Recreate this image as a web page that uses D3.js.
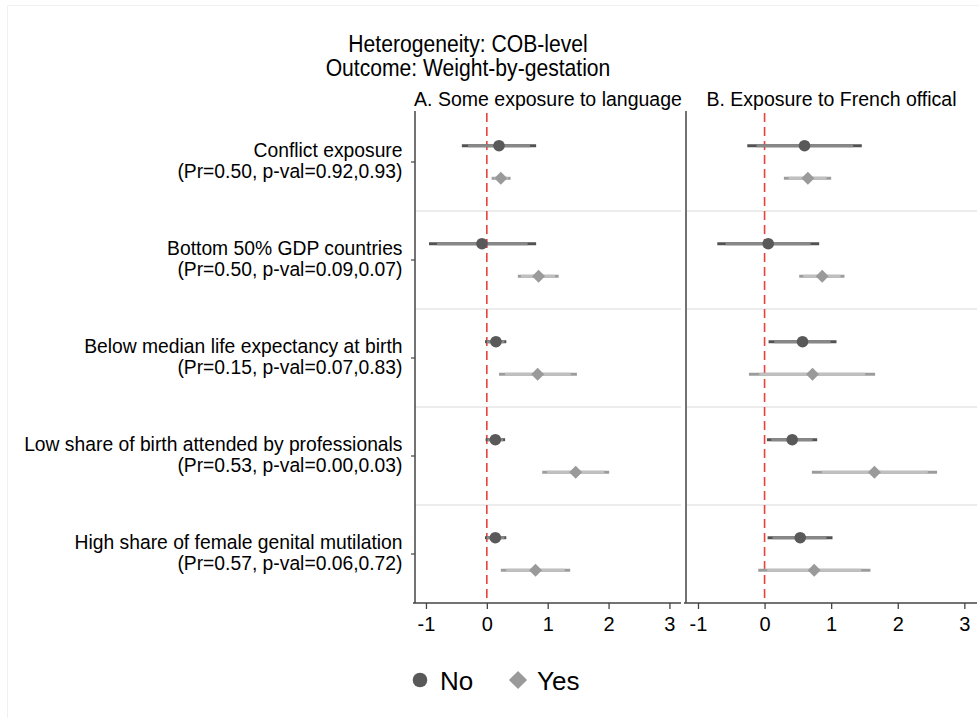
<!DOCTYPE html>
<html>
<head>
<meta charset="utf-8">
<script src="https://cdn.jsdelivr.net/npm/d3@7"></script>
<style>
  html, body { margin: 0; padding: 0; background: #fff; }
  svg text { font-family: "Liberation Sans", Arial, Helvetica, sans-serif; fill: #000; }
</style>
</head>
<body>
<svg id="chart" width="979" height="718"></svg>
<script>
// ---- Data -------------------------------------------------------------
const titleLines = ["Heterogeneity: COB-level", "Outcome: Weight-by-gestation"];
const panelTitles = ["A. Some exposure to language", "B. Exposure to French offical"];
const categories = [
  "Conflict exposure",
  "Bottom 50% GDP countries",
  "Below median life expectancy at birth",
  "Low share of birth attended by professionals",
  "High share of female genital mutilation"
];
const statLabels = [
  "(Pr=0.50, p-val=0.92,0.93)",
  "(Pr=0.50, p-val=0.09,0.07)",
  "(Pr=0.15, p-val=0.07,0.83)",
  "(Pr=0.53, p-val=0.00,0.03)",
  "(Pr=0.57, p-val=0.06,0.72)"
];
const xTicks = [-1, 0, 1, 2, 3];
const groups = ["No", "Yes"];

// Panel A: point estimates with 95% and 90% intervals
const aNoEst  = [0.20, -0.08, 0.15, 0.14, 0.14];
const aNoLo95 = [-0.41, -0.95, -0.03, -0.02, -0.03];
const aNoHi95 = [0.81, 0.81, 0.32, 0.30, 0.32];
const aNoLo90 = [-0.31, -0.82, 0.00, 0.01, 0.00];
const aNoHi90 = [0.71, 0.67, 0.29, 0.27, 0.29];
const aYesEst  = [0.23, 0.85, 0.835, 1.46, 0.80];
const aYesLo95 = [0.08, 0.51, 0.20, 0.91, 0.23];
const aYesHi95 = [0.39, 1.18, 1.48, 2.01, 1.37];
const aYesLo90 = [0.12, 0.56, 0.30, 0.99, 0.32];
const aYesHi90 = [0.35, 1.12, 1.38, 1.93, 1.28];

// Panel B
const bNoEst  = [0.60, 0.055, 0.57, 0.415, 0.535];
const bNoLo95 = [-0.26, -0.71, 0.06, 0.035, 0.045];
const bNoHi95 = [1.46, 0.82, 1.08, 0.79, 1.02];
const bNoLo90 = [-0.12, -0.585, 0.145, 0.10, 0.12];
const bNoHi90 = [1.33, 0.69, 0.99, 0.72, 0.93];
const bYesEst  = [0.65, 0.865, 0.72, 1.65, 0.745];
const bYesLo95 = [0.29, 0.52, -0.235, 0.71, -0.095];
const bYesHi95 = [1.00, 1.20, 1.66, 2.59, 1.59];
const bYesLo90 = [0.36, 0.58, -0.08, 0.86, 0.04];
const bYesHi90 = [0.93, 1.14, 1.51, 2.45, 1.45];

// ---- Build rows -------------------------------------------------------
function rows(est, lo95, hi95, lo90, hi90, group) {
  return categories.map((c, i) => ({
    cat: c, group, est: est[i], lo95: lo95[i], hi95: hi95[i], lo90: lo90[i], hi90: hi90[i]
  }));
}
const panels = [
  { title: panelTitles[0], range: [415, 681], gridEnd: 681,
    data: rows(aNoEst, aNoLo95, aNoHi95, aNoLo90, aNoHi90, "No")
      .concat(rows(aYesEst, aYesLo95, aYesHi95, aYesLo90, aYesHi90, "Yes")) },
  { title: panelTitles[1], range: [686, 977], gridEnd: 977,
    data: rows(bNoEst, bNoLo95, bNoHi95, bNoLo90, bNoHi90, "No")
      .concat(rows(bYesEst, bYesLo95, bYesHi95, bYesLo90, bYesHi90, "Yes")) }
];

// ---- Layout & styles --------------------------------------------------
const plotTop = 113, plotBottom = 603;
const xDomain = [-1.18, 3.19];
const y = d3.scaleBand().domain(categories).range([plotTop, plotBottom]).padding(0);
const groupOffset = d3.scalePoint().domain(groups).range([-16.3, 16.3]);
const style = {
  No:  { point: "#595959", outer: "#525252", inner: "#888888" },
  Yes: { point: "#9a9a9a", outer: "#9c9c9c", inner: "#c0c0c0" }
};
const axisColor = "#444";

const svg = d3.select("#chart");

// faint outer frame of the graph region
svg.append("rect")
  .attr("x", 7.5).attr("y", 5.5).attr("width", 990).attr("height", 730)
  .attr("fill", "none").attr("stroke", "#f1f1f1").attr("stroke-width", 1);

// title (slightly condensed Helvetica look)
const titleG = svg.append("g").attr("transform", "translate(468,0) scale(0.88,1)");
titleLines.forEach((t, i) => {
  titleG.append("text")
    .attr("x", 0).attr("y", 52 + i * 24)
    .attr("text-anchor", "middle").attr("font-size", 24)
    .text(t);
});

panels.forEach((p, pi) => {
  const x = d3.scaleLinear().domain(xDomain).range(p.range);
  const g = svg.append("g");

  // panel title
  g.append("text")
    .attr("x", (p.range[0] + p.range[1]) / 2).attr("y", 106)
    .attr("text-anchor", "middle").attr("font-size", 19.5)
    .text(p.title);

  // horizontal separators between categories
  g.selectAll("line.sep")
    .data(categories.slice(1))
    .join("line")
    .attr("x1", p.range[0]).attr("x2", p.gridEnd)
    .attr("y1", d => y(d)).attr("y2", d => y(d))
    .attr("stroke", "#e6e6e6").attr("stroke-width", 1.5);

  // zero reference line
  g.append("line")
    .attr("x1", x(0)).attr("x2", x(0))
    .attr("y1", plotTop).attr("y2", plotBottom)
    .attr("stroke", "#e8433a").attr("stroke-width", 1.6)
    .attr("stroke-dasharray", "9,5");

  const cy = d => y(d.cat) + y.bandwidth() / 2 + groupOffset(d.group);

  // 95% intervals
  g.selectAll("line.ci95")
    .data(p.data)
    .join("line")
    .attr("x1", d => x(d.lo95)).attr("x2", d => x(d.hi95))
    .attr("y1", cy).attr("y2", cy)
    .attr("stroke", d => style[d.group].outer).attr("stroke-width", 3);

  // 90% intervals
  g.selectAll("line.ci90")
    .data(p.data)
    .join("line")
    .attr("x1", d => x(d.lo90)).attr("x2", d => x(d.hi90))
    .attr("y1", cy).attr("y2", cy)
    .attr("stroke", d => style[d.group].inner).attr("stroke-width", 3);

  // point estimates
  g.selectAll("circle.est")
    .data(p.data.filter(d => d.group === "No"))
    .join("circle")
    .attr("cx", d => x(d.est)).attr("cy", cy).attr("r", 5.8)
    .attr("fill", style.No.point);
  g.selectAll("path.est")
    .data(p.data.filter(d => d.group === "Yes"))
    .join("path")
    .attr("d", d3.symbol().type(d3.symbolSquare).size(84)())
    .attr("transform", d => `translate(${x(d.est)},${cy(d)}) rotate(45)`)
    .attr("fill", style.Yes.point);

  // left axis line
  g.append("line")
    .attr("x1", p.range[0]).attr("x2", p.range[0])
    .attr("y1", plotTop - 2).attr("y2", plotBottom)
    .attr("stroke", axisColor).attr("stroke-width", 1.5);

  // bottom axis
  const xAxis = d3.axisBottom(x).tickValues(xTicks).tickSize(6).tickPadding(5)
    .tickFormat(d => String(d));
  const ax = g.append("g")
    .attr("transform", `translate(0,${plotBottom})`)
    .call(xAxis);
  ax.select(".domain").remove();
  ax.append("line")
    .attr("x1", p.range[0] - 2).attr("x2", p.range[1])
    .attr("y1", 0).attr("y2", 0)
    .attr("stroke", axisColor).attr("stroke-width", 1.5);
  ax.selectAll(".tick line").attr("stroke", axisColor).attr("stroke-width", 1.3);
  ax.selectAll(".tick text")
    .attr("font-size", 20).attr("fill", "#000")
    .attr("font-family", "'Liberation Sans', Arial, sans-serif")
    .attr("dy", "0.85em");

  // category axis on the left panel only: name on top, test statistics below
  if (pi === 0) {
    const ya = g.append("g");
    categories.forEach((c, i) => {
      const yc = y(c) + y.bandwidth() / 2;
      ya.append("line")
        .attr("x1", p.range[0] - 4).attr("x2", p.range[0])
        .attr("y1", yc).attr("y2", yc)
        .attr("stroke", axisColor).attr("stroke-width", 1.2);
      ya.append("text")
        .attr("x", 402.5).attr("y", yc - 5.5)
        .attr("text-anchor", "end").attr("font-size", 19.3)
        .text(c);
      ya.append("text")
        .attr("x", 402.5).attr("y", yc + 16.3)
        .attr("text-anchor", "end").attr("font-size", 19.3)
        .text(statLabels[i]);
    });
  }
});

// legend
const legend = svg.append("g").attr("transform", "translate(0,680)");
legend.append("circle").attr("cx", 420).attr("cy", 0).attr("r", 7.3).attr("fill", style.No.point);
legend.append("text").attr("x", 440).attr("y", 9.5).attr("font-size", 26).text(groups[0]);
legend.append("path")
  .attr("d", d3.symbol().type(d3.symbolSquare).size(165)())
  .attr("transform", "translate(518,0) rotate(45)")
  .attr("fill", style.Yes.point);
legend.append("text").attr("x", 537).attr("y", 9.5).attr("font-size", 26).text(groups[1]);
</script>
</body>
</html>
